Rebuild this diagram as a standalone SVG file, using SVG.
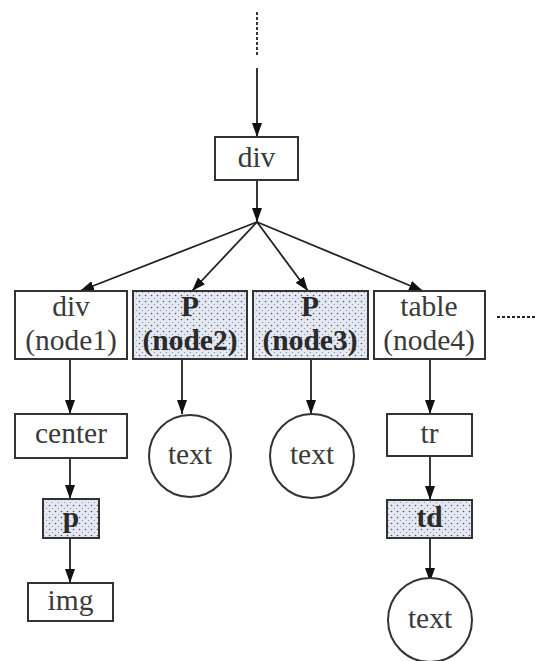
<svg xmlns="http://www.w3.org/2000/svg" width="535" height="661" viewBox="0 0 535 661">
<style>
.box{fill:#fff;stroke:#333;stroke-width:2}
.sh{fill:url(#dots);stroke:#333;stroke-width:2}
.t{font-family:"Liberation Serif","Times New Roman",serif;font-size:29.5px;fill:#3a3a3a;text-anchor:middle}
.b{font-weight:bold;fill:#2a2a2a}
.ln{stroke:#222;stroke-width:1.8;fill:none}
</style>
<defs>
<pattern id="dots" width="6" height="6" patternUnits="userSpaceOnUse">
<rect width="6" height="6" fill="#e3e8f2"/>
<circle cx="1.5" cy="1.5" r="0.8" fill="#555"/>
<circle cx="4.5" cy="4.5" r="0.6" fill="#888"/>
</pattern>
<marker id="ah2" viewBox="0 0 14 10" refX="14" refY="5" markerWidth="14" markerHeight="10" markerUnits="userSpaceOnUse" orient="auto">
<path d="M0,0 L14,5 L0,10 z" fill="#111"/>
</marker>
</defs>
<g id="connectors">
<line class="ln" x1="257" y1="12" x2="257" y2="55" stroke-dasharray="3,2" stroke-width="2.5"/>
<line class="ln" x1="257" y1="68" x2="257" y2="137" marker-end="url(#ah2)"/>
<line class="ln" x1="257" y1="180" x2="257" y2="222" marker-end="url(#ah2)"/>
<line class="ln" x1="257" y1="222" x2="80" y2="291" marker-end="url(#ah2)"/>
<line class="ln" x1="257" y1="222" x2="192" y2="291" marker-end="url(#ah2)"/>
<line class="ln" x1="257" y1="222" x2="308" y2="291" marker-end="url(#ah2)"/>
<line class="ln" x1="257" y1="222" x2="423" y2="291" marker-end="url(#ah2)"/>
<line class="ln" x1="497" y1="317" x2="535" y2="317" stroke-dasharray="3,2" stroke-width="2.5"/>
<line class="ln" x1="70" y1="359" x2="70" y2="414" marker-end="url(#ah2)"/>
<line class="ln" x1="70" y1="458" x2="70" y2="499" marker-end="url(#ah2)"/>
<line class="ln" x1="70" y1="538" x2="70" y2="583" marker-end="url(#ah2)"/>
<line class="ln" x1="182" y1="359" x2="182" y2="414" marker-end="url(#ah2)"/>
<line class="ln" x1="311" y1="359" x2="311" y2="414" marker-end="url(#ah2)"/>
<line class="ln" x1="430" y1="359" x2="430" y2="414" marker-end="url(#ah2)"/>
<line class="ln" x1="430" y1="456" x2="430" y2="500" marker-end="url(#ah2)"/>
<line class="ln" x1="430" y1="538" x2="430" y2="582" marker-end="url(#ah2)"/>
</g>
<g id="div-top"><rect class="box" x="215" y="137" width="83" height="43"/><text class="t" x="256.5" y="167">div</text></g>
<g id="node1"><rect class="box" x="15" y="291" width="112" height="68"/><text class="t" x="71" y="316">div</text><text class="t" x="71" y="350">(node1)</text></g>
<g id="node2"><rect class="sh" x="133" y="291" width="114" height="68"/><text class="t b" x="190" y="316">P</text><text class="t b" x="190" y="350">(node2)</text></g>
<g id="node3"><rect class="sh" x="253" y="291" width="115" height="68"/><text class="t b" x="310" y="316">P</text><text class="t b" x="310" y="350">(node3)</text></g>
<g id="node4"><rect class="box" x="374" y="291" width="111" height="68"/><text class="t" x="429" y="316">table</text><text class="t" x="429" y="350">(node4)</text></g>
<g id="center"><rect class="box" x="15" y="414" width="112" height="44"/><text class="t" x="71" y="443">center</text></g>
<g id="p-left"><rect class="sh" x="43" y="499" width="56" height="39"/><text class="t b" x="71" y="527">p</text></g>
<g id="img"><rect class="box" x="28" y="583" width="85" height="38"/><text class="t" x="70.5" y="610">img</text></g>
<g id="text1"><circle class="box" cx="190" cy="456" r="41"/><text class="t" x="190" y="464">text</text></g>
<g id="text2"><circle class="box" cx="312" cy="456" r="42"/><text class="t" x="312" y="464">text</text></g>
<g id="tr"><rect class="box" x="387" y="414" width="85" height="42"/><text class="t" x="429.5" y="443">tr</text></g>
<g id="td"><rect class="sh" x="387" y="500" width="85" height="38"/><text class="t b" x="429.5" y="527">td</text></g>
<g id="text3"><circle class="box" cx="430" cy="620" r="42"/><text class="t" x="430" y="628">text</text></g>
</svg>
